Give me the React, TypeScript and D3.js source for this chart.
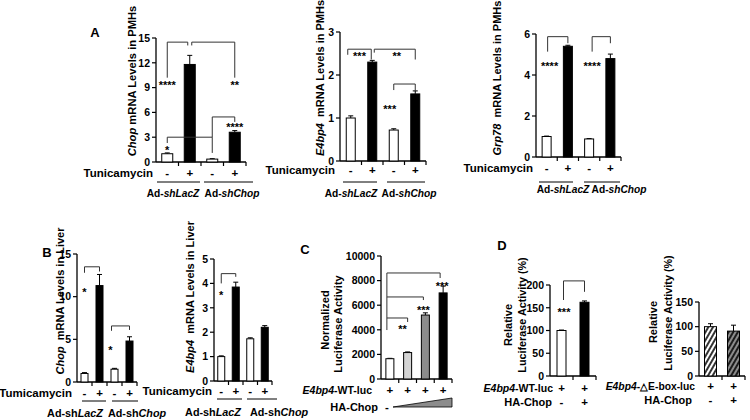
import React from 'react';
import * as d3 from 'd3';

const FONT = '"Liberation Sans", Arial, Helvetica, sans-serif';

// ---------------- Data ----------------
// Panel A (PMHs): Tunicamycin -, +, -, + for Ad-shLacZ / Ad-shChop
const aTreat = ['-', '+', '-', '+'];
const a1Values = [1.0, 11.8, 0.35, 3.6];
const a1Errors = [0.1, 1.1, 0.05, 0.2];
const a1Ticks = [0, 3, 6, 9, 12, 15];
const a2Values = [1.0, 2.3, 0.72, 1.56];
const a2Errors = [0.05, 0.04, 0.03, 0.07];
const a2Ticks = [0, 1, 2, 3];
const a3Values = [1.0, 5.4, 0.88, 4.8];
const a3Errors = [0.02, 0.05, 0.02, 0.22];
const a3Ticks = [0, 2, 4, 6];
// Panel B (Liver)
const b1Values = [1.0, 11.3, 1.5, 4.8];
const b1Errors = [0.1, 1.3, 0.1, 0.5];
const b1Ticks = [0, 5, 10, 15];
const b2Values = [1.0, 3.85, 1.73, 2.2];
const b2Errors = [0.03, 0.2, 0.04, 0.07];
const b2Ticks = [0, 1, 2, 3, 4, 5];
// Panel C (luciferase, increasing HA-Chop)
const cValues = [1650, 2150, 5200, 7000];
const cErrors = [30, 50, 180, 550];
const cTicks = [0, 2000, 4000, 6000, 8000, 10000];
const cLuc = ['+', '+', '+', '+'];
// Panel D
const d1Values = [100, 162];
const d1Errors = [1, 3];
const d1Ticks = [0, 50, 100, 150, 200];
const d2Values = [100, 91];
const d2Errors = [6, 12];
const d2Ticks = [0, 50, 100, 150];
const dLuc = ['+', '+'];
const dChop = ['-', '+'];

type Seg = [string, boolean];
const groupA1: Seg[] = [['Ad-', false], ['shLacZ', true]];
const groupA2: Seg[] = [['Ad-', false], ['shChop', true]];
const groupB1: Seg[] = [['Ad-sh', false], ['LacZ', true]];
const groupB2: Seg[] = [['Ad-sh', false], ['Chop', true]];

// significance annotations (data units)
type Bracket = { a: number; b: number; y: number; ya: number; yb: number; dxa?: number; dxb?: number };
type Star = { t: string; i: number; v: number; dx?: number };

const a1Brackets: Bracket[] = [
  { a: 0, b: 1, y: 14.5, ya: 10.2, yb: 14.1, dxb: -2 },
  { a: 1, b: 3, y: 14.5, ya: 14.1, yb: 10.2, dxa: 2 },
  { a: 0, b: 2, y: 3.0, ya: 2.3, yb: 1.1 },
  { a: 2, b: 3, y: 5.45, ya: 3.0, yb: 4.85 },
];
const a1Stars: Star[] = [
  { t: '****', i: 0, v: 9.5 },
  { t: '**', i: 3, v: 9.5 },
  { t: '*', i: 0, v: 1.7 },
  { t: '****', i: 3, v: 4.45 },
];
const a2Brackets: Bracket[] = [
  { a: 0, b: 1, y: 2.6, ya: 2.47, yb: 2.36, dxa: -3, dxb: -1 },
  { a: 1, b: 3, y: 2.6, ya: 2.52, yb: 2.36, dxa: 2 },
  { a: 2, b: 3, y: 1.79, ya: 1.65, yb: 1.62 },
];
const a2Stars: Star[] = [
  { t: '***', i: 0.5, v: 2.49, dx: -2 },
  { t: '**', i: 2, v: 2.49, dx: 3 },
  { t: '***', i: 2, v: 1.26, dx: -4 },
];
const a3Brackets: Bracket[] = [
  { a: 0, b: 1, y: 5.87, ya: 5.14, yb: 5.55, dxa: 1 },
  { a: 2, b: 3, y: 5.87, ya: 5.14, yb: 5.55, dxa: 3 },
];
const a3Stars: Star[] = [
  { t: '****', i: 0, v: 4.54, dx: 3 },
  { t: '****', i: 2, v: 4.54, dx: 3 },
];
const b1Brackets: Bracket[] = [
  { a: 0, b: 1, y: 13.5, ya: 12.8, yb: 12.95 },
  { a: 2, b: 3, y: 6.57, ya: 6.0, yb: 6.1, dxa: -3 },
];
const b1Stars: Star[] = [
  { t: '*', i: 0, v: 10.8 },
  { t: '*', i: 2, v: 4.0, dx: -4 },
];
const b2Brackets: Bracket[] = [{ a: 0, b: 1, y: 4.4, ya: 4.0, yb: 4.27 }];
const b2Stars: Star[] = [{ t: '*', i: 0, v: 3.59 }];
const cBrackets: Bracket[] = [
  { a: 0, b: 1, y: 4960, ya: 3980, yb: 4635, dxa: -3 },
  { a: 0, b: 2, y: 6670, ya: 4960, yb: 6420, dxa: -3, dxb: -2 },
  { a: 0, b: 3, y: 8620, ya: 6670, yb: 8210, dxa: -3, dxb: -3 },
];
const cStars: Star[] = [
  { t: '**', i: 1, v: 4230, dx: -5 },
  { t: '***', i: 2, v: 5770, dx: -2 },
  { t: '***', i: 3, v: 7720, dx: -1 },
];
const d1Brackets: Bracket[] = [{ a: 0, b: 1, y: 209, ya: 167, yb: 185, dxa: 2 }];
const d1Stars: Star[] = [{ t: '***', i: 0, v: 145, dx: 2.5 }];

// ---------------- Layout ----------------
type Cfg = {
  x1: number; x2: number; y0: number; y1: number; max: number; barW: number;
  values: number[]; errors: number[]; ticks: number[]; fills: string[];
  brackets: Bracket[]; stars: Star[];
};

function geom(c: Cfg) {
  const y = d3.scaleLinear().domain([0, c.max]).range([c.y0, c.y1]);
  const x = d3.scaleBand<number>().domain(d3.range(c.values.length)).range([c.x1, c.x2]);
  const bw = x.bandwidth();
  const cx = (i: number) => c.x1 + (i + 0.5) * bw;
  return { x, y, bw, cx };
}

const BR = '#333';

function Panel({ c }: { c: Cfg }) {
  const { x, y, bw, cx } = geom(c);
  const fmt = d3.format('d');
  return (
    <g>
      <line x1={c.x1} x2={c.x1} y1={c.y0} y2={y(c.max)} stroke="#000" strokeWidth={1.3} />
      {c.ticks.map((t) => (
        <g key={t}>
          <line x1={c.x1 - 4} x2={c.x1} y1={y(t)} y2={y(t)} stroke="#000" strokeWidth={1.2} />
          <text x={c.x1 - 6} y={y(t)} dy="0.36em" textAnchor="end" fontSize={10.5}>{fmt(t)}</text>
        </g>
      ))}
      <line x1={c.x1} x2={c.x2} y1={c.y0} y2={c.y0} stroke="#000" strokeWidth={1.3} />
      {c.values.map((_, i) => (
        <line key={i} x1={x(i)! + bw} x2={x(i)! + bw} y1={c.y0} y2={c.y0 + 4} stroke="#000" strokeWidth={1.2} />
      ))}
      {c.values.map((v, i) => (
        <g key={i}>
          <line x1={cx(i)} x2={cx(i)} y1={y(v)} y2={y(v + c.errors[i])} stroke="#000" strokeWidth={1} />
          <line x1={cx(i) - 2.5} x2={cx(i) + 2.5} y1={y(v + c.errors[i])} y2={y(v + c.errors[i])} stroke="#000" strokeWidth={1} />
          <rect x={cx(i) - c.barW / 2} y={y(v)} width={c.barW} height={c.y0 - y(v)} fill={c.fills[i]} stroke="#000" strokeWidth={1} />
        </g>
      ))}
      {c.brackets.map((b, k) => {
        const xa = cx(b.a) + (b.dxa || 0);
        const xb = cx(b.b) + (b.dxb || 0);
        return (
          <path key={k} d={`M${xa},${y(b.ya)}V${y(b.y)}H${xb}V${y(b.yb)}`} fill="none" stroke={BR} strokeWidth={1} />
        );
      })}
      {c.stars.map((s, k) => (
        <text key={k} x={cx(s.i) + (s.dx || 0)} y={y(s.v) + 6} textAnchor="middle" fontSize={11}>{s.t}</text>
      ))}
    </g>
  );
}

function Segs({ parts }: { parts: Seg[] }) {
  return (
    <>
      {parts.map(([t, it], k) => (
        <tspan key={k} fontStyle={it ? 'italic' : 'normal'}>{t}</tspan>
      ))}
    </>
  );
}

function YLabel({ x, y, parts, size = 11 }: { x: number; y: number; parts: Seg[]; size?: number }) {
  return (
    <text transform={`translate(${x},${y}) rotate(-90)`} textAnchor="middle" fontSize={size}>
      <Segs parts={parts} />
    </text>
  );
}

function SignRow({ c, signs, y, size = 11.5 }: { c: Cfg; signs: string[]; y: number; size?: number }) {
  const { cx } = geom(c);
  return (
    <g>
      {signs.map((s, i) => (
        <text key={i} x={cx(i)} y={y} textAnchor="middle" fontSize={size}>{s}</text>
      ))}
    </g>
  );
}

const cfgA1: Cfg = { x1: 156, x2: 246, y0: 162, y1: 38, max: 15, barW: 11, values: a1Values, errors: a1Errors, ticks: a1Ticks, fills: ['#fff', '#000', '#fff', '#000'], brackets: a1Brackets, stars: a1Stars };
const cfgA2: Cfg = { x1: 340, x2: 426, y0: 161, y1: 32, max: 3, barW: 9, values: a2Values, errors: a2Errors, ticks: a2Ticks, fills: ['#fff', '#000', '#fff', '#000'], brackets: a2Brackets, stars: a2Stars };
const cfgA3: Cfg = { x1: 536, x2: 621, y0: 157, y1: 34, max: 6, barW: 9, values: a3Values, errors: a3Errors, ticks: a3Ticks, fills: ['#fff', '#000', '#fff', '#000'], brackets: a3Brackets, stars: a3Stars };
const cfgB1: Cfg = { x1: 77, x2: 137, y0: 382, y1: 254, max: 15, barW: 7, values: b1Values, errors: b1Errors, ticks: b1Ticks, fills: ['#fff', '#000', '#fff', '#000'], brackets: b1Brackets, stars: b1Stars };
const cfgB2: Cfg = { x1: 214, x2: 272, y0: 381, y1: 259, max: 5, barW: 7, values: b2Values, errors: b2Errors, ticks: b2Ticks, fills: ['#fff', '#000', '#fff', '#000'], brackets: b2Brackets, stars: b2Stars };
const cfgC: Cfg = { x1: 381, x2: 452, y0: 379, y1: 256, max: 10000, barW: 8, values: cValues, errors: cErrors, ticks: cTicks, fills: ['#fff', '#d4d4d4', '#8c8c8c', '#000'], brackets: cBrackets, stars: cStars };
const cfgD1: Cfg = { x1: 550, x2: 596, y0: 376, y1: 285, max: 200, barW: 9, values: d1Values, errors: d1Errors, ticks: d1Ticks, fills: ['#fff', '#000'], brackets: d1Brackets, stars: d1Stars };
const cfgD2: Cfg = { x1: 699, x2: 745, y0: 376, y1: 302, max: 150, barW: 12, values: d2Values, errors: d2Errors, ticks: d2Ticks, fills: ['url(#hatchW)', 'url(#hatchG)'], brackets: [], stars: [] };

export default function App() {
  const L = 11.5;
  const G = 10.2;
  return (
    <svg width={750} height={420} style={{ position: 'absolute', left: 0, top: 0, background: '#fff' }} fontFamily={FONT} fontWeight="bold">
      <defs>
        <pattern id="hatchW" patternUnits="userSpaceOnUse" width={4} height={4} patternTransform="rotate(30)">
          <rect width={4} height={4} fill="#fff" />
          <line x1={1} x2={1} y1={0} y2={4} stroke="#000" strokeWidth={1.6} />
        </pattern>
        <pattern id="hatchG" patternUnits="userSpaceOnUse" width={4} height={4} patternTransform="rotate(30)">
          <rect width={4} height={4} fill="#8c8c8c" />
          <line x1={1} x2={1} y1={0} y2={4} stroke="#000" strokeWidth={1.6} />
        </pattern>
      </defs>
      <rect width={750} height={420} fill="#fff" />

      {/* panel letters */}
      <text x={95} y={37} textAnchor="middle" fontSize={13}>A</text>
      <text x={47} y={257} textAnchor="middle" fontSize={13}>B</text>
      <text x={305} y={254} textAnchor="middle" fontSize={13}>C</text>
      <text x={502} y={250} textAnchor="middle" fontSize={13}>D</text>

      {/* ---------- A1 ---------- */}
      <Panel c={cfgA1} />
      <YLabel x={136} y={81} size={11.2} parts={[['Chop', true], [' mRNA Levels in PMHs', false]]} />
      <text x={153} y={177} textAnchor="end" fontSize={L}>Tunicamycin</text>
      <SignRow c={cfgA1} signs={aTreat} y={177} />
      <line x1={157} x2={200} y1={182} y2={182} stroke="#000" />
      <line x1={204} x2={253} y1={182} y2={182} stroke="#000" />
      <text x={173} y={197} textAnchor="middle" fontSize={G}><Segs parts={groupA1} /></text>
      <text x={232} y={197} textAnchor="middle" fontSize={G}><Segs parts={groupA2} /></text>

      {/* ---------- A2 ---------- */}
      <Panel c={cfgA2} />
      <YLabel x={324} y={78} parts={[['E4bp4', true], ['\u00a0 mRNA Levels in PMHs', false]]} />
      <text x={335} y={174} textAnchor="end" fontSize={L}>Tunicamycin</text>
      <SignRow c={cfgA2} signs={aTreat} y={174} />
      <line x1={343} x2={377} y1={182} y2={182} stroke="#000" />
      <line x1={387} x2={425} y1={182} y2={182} stroke="#000" />
      <text x={351} y={197} textAnchor="middle" fontSize={G}><Segs parts={groupA1} /></text>
      <text x={409} y={197} textAnchor="middle" fontSize={G}><Segs parts={groupA2} /></text>

      {/* ---------- A3 ---------- */}
      <Panel c={cfgA3} />
      <YLabel x={501} y={78} parts={[['Grp78', true], ['\u00a0 mRNA Levels in PMHs', false]]} />
      <text x={533} y={172} textAnchor="end" fontSize={L}>Tunicamycin</text>
      <SignRow c={cfgA3} signs={aTreat} y={172} />
      <line x1={539} x2={573} y1={182} y2={182} stroke="#000" />
      <line x1={584} x2={620} y1={182} y2={182} stroke="#000" />
      <text x={563} y={193} textAnchor="middle" fontSize={G}><Segs parts={groupA1} /></text>
      <text x={619} y={193} textAnchor="middle" fontSize={G}><Segs parts={groupA2} /></text>

      {/* ---------- B1 ---------- */}
      <Panel c={cfgB1} />
      <YLabel x={64} y={301} parts={[['Chop', true], ['\u00a0 mRNA Levels in Liver', false]]} />
      <text x={72} y={397} textAnchor="end" fontSize={L}>Tumicamycin</text>
      <SignRow c={cfgB1} signs={aTreat} y={397} />
      <line x1={82} x2={106} y1={401} y2={401} stroke="#000" />
      <line x1={112} x2={138} y1={401} y2={401} stroke="#000" />
      <text x={75} y={417} textAnchor="middle" fontSize={10.8}><Segs parts={groupB1} /></text>
      <text x={137} y={417} textAnchor="middle" fontSize={10.8}><Segs parts={groupB2} /></text>

      {/* ---------- B2 ---------- */}
      <Panel c={cfgB2} />
      <YLabel x={194} y={297} parts={[['E4bp4', true], ['\u00a0 mRNA Levels in Liver', false]]} />
      <text x={212} y={395} textAnchor="end" fontSize={L}>Tunicamycin</text>
      <SignRow c={cfgB2} signs={aTreat} y={395} />
      <line x1={217} x2={242} y1={399} y2={399} stroke="#000" />
      <line x1={247} x2={277} y1={399} y2={399} stroke="#000" />
      <text x={213} y={416} textAnchor="middle" fontSize={10.8}><Segs parts={groupB1} /></text>
      <text x={279} y={416} textAnchor="middle" fontSize={10.8}><Segs parts={groupB2} /></text>

      {/* ---------- C ---------- */}
      <Panel c={cfgC} />
      <YLabel x={329} y={320} parts={[['Normalized', false]]} size={11} />
      <YLabel x={342} y={324} parts={[['Luciferase Activity', false]]} size={11} />
      <text x={372} y={394} textAnchor="end" fontSize={10.5}><Segs parts={[['E4bp4', true], ['-WT-luc', false]]} /></text>
      <SignRow c={cfgC} signs={cLuc} y={394} />
      <text x={378} y={411} textAnchor="end" fontSize={11}>HA-Chop</text>
      <text x={387} y={411} textAnchor="middle" fontSize={L}>-</text>
      <polygon points="393,407 452,398 452,407" fill="#8c8c8c" stroke="#000" strokeWidth={0.8} />

      {/* ---------- D1 ---------- */}
      <Panel c={cfgD1} />
      <YLabel x={512} y={325} parts={[['Relative', false]]} size={11} />
      <YLabel x={526} y={315} parts={[['Luciferase Activity (%)', false]]} size={10.8} />
      <text x={553} y={392} textAnchor="end" fontSize={10.5}><Segs parts={[['E4bp4', true], ['-WT-luc', false]]} /></text>
      <SignRow c={cfgD1} signs={dLuc} y={392} />
      <text x={552} y={406} textAnchor="end" fontSize={11}>HA-Chop</text>
      <SignRow c={cfgD1} signs={dChop} y={406} />

      {/* ---------- D2 ---------- */}
      <Panel c={cfgD2} />
      <YLabel x={657} y={322} parts={[['Relative', false]]} size={11} />
      <YLabel x={672} y={313} parts={[['Luciferase Activity (%)', false]]} size={10.8} />
      <text x={695} y={390} textAnchor="end" fontSize={10.3}><Segs parts={[['E4bp4', true], ['-△E-box-luc', false]]} /></text>
      <SignRow c={cfgD2} signs={dLuc} y={390} />
      <text x={692} y={404} textAnchor="end" fontSize={11}>HA-Chop</text>
      <SignRow c={cfgD2} signs={dChop} y={404} />
    </svg>
  );
}
